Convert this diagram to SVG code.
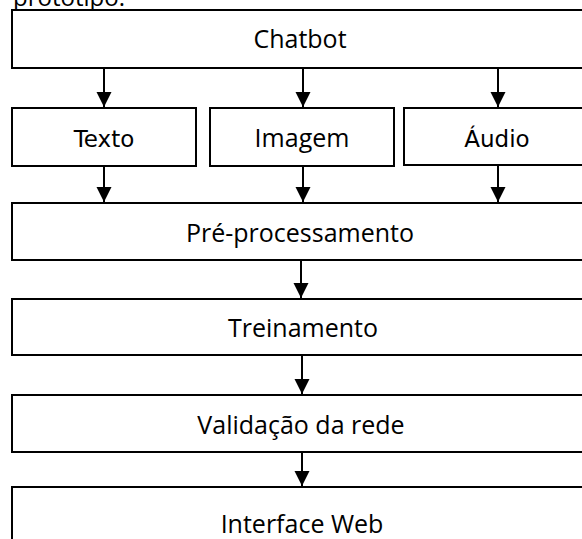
<svg xmlns="http://www.w3.org/2000/svg" width="582" height="539" viewBox="0 0 582 539">
<style>
.box{fill:#fff;stroke:#000;stroke-width:2}
.lbl{font-family:"Open Sans","Liberation Sans",sans-serif;font-size:25px;fill:#000;text-anchor:middle}
.dv{font-family:"DejaVu Sans","Liberation Sans",sans-serif;font-size:23px;fill:#000;text-anchor:middle}
.con{stroke:#000;stroke-width:2;fill:none;marker-end:url(#ah)}
</style>
<defs>
<marker id="ah" markerUnits="userSpaceOnUse" markerWidth="16" markerHeight="16" refX="15" refY="7.5" orient="auto">
<path d="M0,0 L15,7.5 L0,15 Z" fill="#000"/>
</marker>
</defs>
<rect width="582" height="539" fill="#fff"/>
<text x="13" y="6" style="font-family:'Open Sans','Liberation Sans',sans-serif;font-size:24px">protótipo:</text>
<g id="connectors">
<line class="con" x1="104" y1="69" x2="104" y2="107"/>
<line class="con" x1="303" y1="69" x2="303" y2="107"/>
<line class="con" x1="498" y1="69" x2="498" y2="107"/>
<line class="con" x1="104" y1="166" x2="104" y2="202"/>
<line class="con" x1="303" y1="166" x2="303" y2="202"/>
<line class="con" x1="498" y1="166" x2="498" y2="202"/>
<line class="con" x1="301" y1="260" x2="301" y2="298"/>
<line class="con" x1="302" y1="355" x2="302" y2="394"/>
<line class="con" x1="302" y1="452" x2="302" y2="486"/>
</g>
<g id="chatbot"><rect class="box" x="12" y="10" width="580" height="58"/><text class="lbl" x="300" y="48">Chatbot</text></g>
<g id="texto"><rect class="box" x="12" y="108" width="184" height="58"/><text class="dv" x="104" y="147">Texto</text></g>
<g id="imagem"><rect class="box" x="210" y="108" width="184" height="58"/><text class="lbl" x="302" y="147">Imagem</text></g>
<g id="audio"><rect class="box" x="404" y="108" width="190" height="57"/><text class="dv" x="497" y="147">Áudio</text></g>
<g id="preproc"><rect class="box" x="12" y="203" width="580" height="57"/><text class="lbl" x="300" y="242">Pré-processamento</text></g>
<g id="treinamento"><rect class="box" x="12" y="299" width="580" height="56"/><text class="lbl" x="303" y="337">Treinamento</text></g>
<g id="validacao"><rect class="box" x="12" y="395" width="580" height="57"/><text class="lbl" x="301" y="434">Validação da rede</text></g>
<g id="interface"><rect class="box" x="12" y="487" width="580" height="70"/><text class="lbl" x="302" y="533">Interface Web</text></g>
</svg>
